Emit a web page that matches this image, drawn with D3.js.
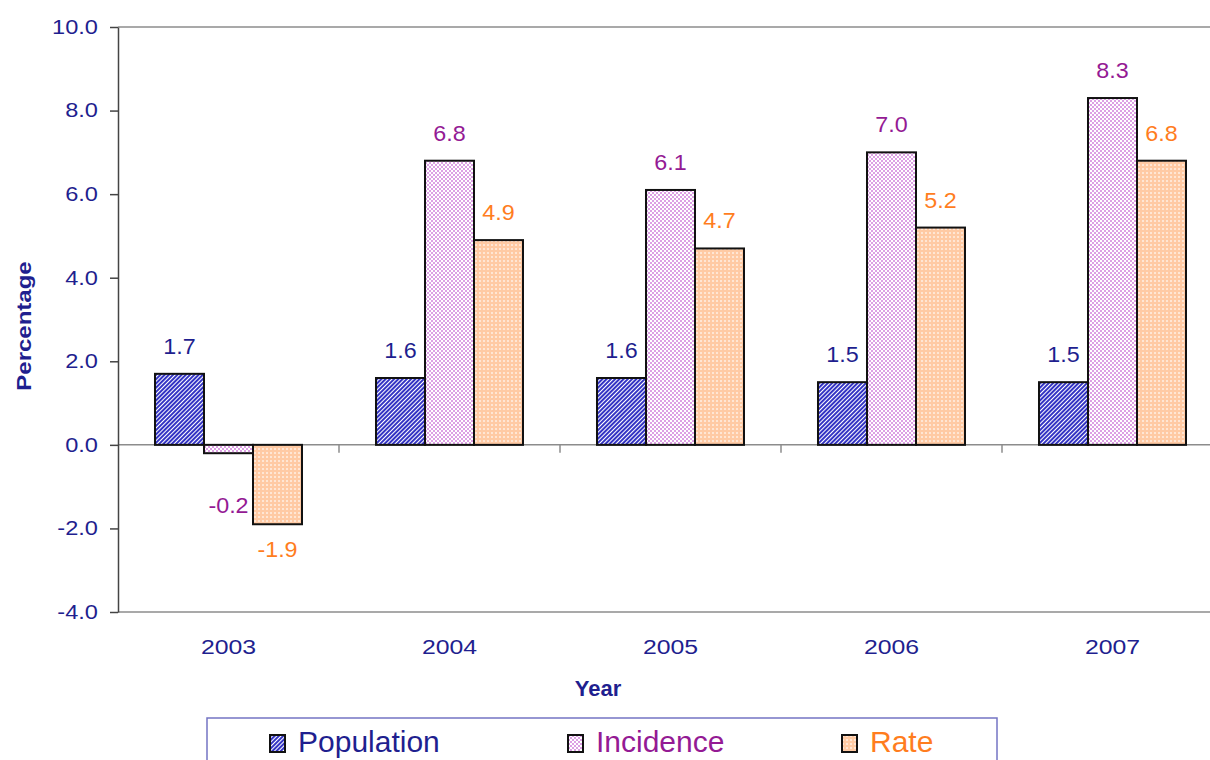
<!DOCTYPE html>
<html>
<head>
<meta charset="utf-8">
<script src="https://cdn.jsdelivr.net/npm/d3@7"></script>
<style>
  body { margin: 0; background: #fff; }
  svg { display: block; font-family: "Liberation Sans", Arial, sans-serif; }
</style>
</head>
<body>
<svg id="chart"></svg>
<script>
const years = ['2003', '2004', '2005', '2006', '2007'];
const seriesNames = ['Population', 'Incidence', 'Rate'];
const population = [1.7, 1.6, 1.6, 1.5, 1.5];
const incidence = [-0.2, 6.8, 6.1, 7.0, 8.3];
const rate = [-1.9, 4.9, 4.7, 5.2, 6.8];
const yTicks = [-4, -2, 0, 2, 4, 6, 8, 10];

const W = 1210;
const H = 760;
const plot = { left: 118, right: 1223, top: 27, bottom: 612 };

const colors = { Population: '#1f1f8f', Incidence: '#941a94', Rate: '#ff7d1e' };
const navy = '#1f1f8f';

const svg = d3.select('#chart').attr('width', W).attr('height', H);

// fill patterns, roughly like the excel ones
const defs = svg.append('defs');
const popPat = defs.append('pattern')
  .attr('id', 'pat-Population')
  .attr('patternUnits', 'userSpaceOnUse')
  .attr('width', 3).attr('height', 3)
  .attr('patternTransform', 'rotate(45)');
popPat.append('rect').attr('width', 3).attr('height', 3).attr('fill', '#ffffff');
popPat.append('rect').attr('width', 2).attr('height', 3).attr('fill', '#3434c4');

const incPat = defs.append('pattern')
  .attr('id', 'pat-Incidence')
  .attr('patternUnits', 'userSpaceOnUse')
  .attr('width', 4).attr('height', 4);
incPat.append('rect').attr('width', 4).attr('height', 4).attr('fill', '#ffffff');
incPat.append('rect').attr('width', 2).attr('height', 2).attr('fill', '#dca0e4');
incPat.append('rect').attr('x', 2).attr('y', 2).attr('width', 2).attr('height', 2).attr('fill', '#dca0e4');

const ratePat = defs.append('pattern')
  .attr('id', 'pat-Rate')
  .attr('patternUnits', 'userSpaceOnUse')
  .attr('width', 4).attr('height', 4);
ratePat.append('rect').attr('width', 4).attr('height', 4).attr('fill', '#ffcaa4');
ratePat.append('rect').attr('width', 2).attr('height', 2).attr('fill', '#ffe6d4');

// scales
const x0 = d3.scaleBand().domain(years).range([plot.left, plot.right]).padding(0);
const x1 = d3.scaleBand().domain(seriesNames).range([0, x0.bandwidth()])
  .paddingInner(0).paddingOuter(0.755);
const y = d3.scaleLinear().domain([-4, 10]).range([plot.bottom, plot.top]);

const data = years.map((yr, i) => ({
  year: yr,
  values: [
    { key: 'Population', v: population[i] },
    { key: 'Incidence', v: incidence[i] },
    { key: 'Rate', v: rate[i] },
  ],
}));

// stretch text a little wider, excel renders it that way
const stretch = (sel, k) => {
  sel.each(function () {
    const len = this.getComputedTextLength();
    d3.select(this).attr('textLength', len * k).attr('lengthAdjust', 'spacingAndGlyphs');
  });
};

// plot area border (top + bottom lines)
svg.append('line')
  .attr('x1', plot.left).attr('x2', plot.right)
  .attr('y1', plot.top).attr('y2', plot.top)
  .attr('stroke', '#8c8c8c').attr('stroke-width', 1.5);
svg.append('line')
  .attr('x1', plot.left).attr('x2', plot.right)
  .attr('y1', plot.bottom).attr('y2', plot.bottom)
  .attr('stroke', '#8c8c8c').attr('stroke-width', 1.5);

// zero line with category ticks
const zeroY = y(0);
svg.append('line')
  .attr('x1', plot.left).attr('x2', plot.right)
  .attr('y1', zeroY).attr('y2', zeroY)
  .attr('stroke', '#8c8c8c').attr('stroke-width', 1.5);
svg.selectAll('.cat-tick')
  .data(years.slice(1))
  .join('line')
  .attr('class', 'cat-tick')
  .attr('x1', (d) => x0(d)).attr('x2', (d) => x0(d))
  .attr('y1', zeroY).attr('y2', zeroY + 8)
  .attr('stroke', '#8c8c8c').attr('stroke-width', 1.5);

// bars
const groups = svg.selectAll('.year')
  .data(data)
  .join('g')
  .attr('class', 'year')
  .attr('transform', (d) => `translate(${x0(d.year)},0)`);

groups.selectAll('rect')
  .data((d) => d.values)
  .join('rect')
  .attr('x', (d) => x1(d.key))
  .attr('y', (d) => y(Math.max(0, d.v)))
  .attr('width', x1.bandwidth())
  .attr('height', (d) => Math.abs(y(d.v) - y(0)))
  .attr('fill', (d) => `url(#pat-${d.key})`)
  .attr('stroke', '#111')
  .attr('stroke-width', 2);

// value labels
groups.selectAll('text.val')
  .data((d) => d.values)
  .join('text')
  .attr('class', 'val')
  .attr('x', (d) => x1(d.key) + x1.bandwidth() / 2)
  // short negative bars get their label pushed down clear of the next bar
  .attr('y', (d) => (d.v >= 0 ? y(d.v) - 20 : Math.max(y(d.v), y(-0.85)) + 33))
  .attr('text-anchor', 'middle')
  .attr('font-size', 22)
  .attr('fill', (d) => colors[d.key])
  .text((d) => d.v.toFixed(1))
  .call(stretch, 1.06);

// y axis
const yAxis = d3.axisLeft(y)
  .tickValues(yTicks)
  .tickSize(8)
  .tickSizeOuter(0)
  .tickPadding(12)
  .tickFormat((d) => d.toFixed(1));
const gy = svg.append('g')
  .attr('transform', `translate(${plot.left},0)`)
  .call(yAxis);
gy.select('.domain').attr('stroke', '#444').attr('stroke-width', 1.5);
gy.selectAll('.tick line').attr('stroke', '#444').attr('stroke-width', 1.5);
gy.selectAll('.tick text')
  .attr('font-size', 20)
  .attr('font-family', '"Liberation Sans", Arial, sans-serif')
  .attr('fill', navy)
  .call(stretch, 1.18);

// category labels at the bottom
svg.selectAll('.cat-label')
  .data(years)
  .join('text')
  .attr('class', 'cat-label')
  .attr('x', (d) => x0(d) + x0.bandwidth() / 2)
  .attr('y', 654)
  .attr('text-anchor', 'middle')
  .attr('font-size', 20)
  .attr('fill', navy)
  .text((d) => d)
  .call(stretch, 1.24);

// axis titles
svg.append('text')
  .attr('x', 598)
  .attr('y', 696)
  .attr('text-anchor', 'middle')
  .attr('font-size', 22)
  .attr('font-weight', 'bold')
  .attr('fill', navy)
  .text('Year');

svg.append('text')
  .attr('transform', 'translate(31,326) rotate(-90)')
  .attr('text-anchor', 'middle')
  .attr('font-size', 20)
  .attr('font-weight', 'bold')
  .attr('fill', navy)
  .text('Percentage')
  .call(stretch, 1.2);

// legend
const legend = svg.append('g');
legend.append('rect')
  .attr('x', 207).attr('y', 718)
  .attr('width', 790).attr('height', 60)
  .attr('fill', '#fff')
  .attr('stroke', '#7474c4')
  .attr('stroke-width', 1.5);

const legendX = [270, 568, 842];
const items = legend.selectAll('.item')
  .data(seriesNames)
  .join('g')
  .attr('class', 'item')
  .attr('transform', (d, i) => `translate(${legendX[i]},735)`);
items.append('rect')
  .attr('width', 15).attr('height', 17)
  .attr('fill', (d) => `url(#pat-${d})`)
  .attr('stroke', '#111')
  .attr('stroke-width', 2);
items.append('text')
  .attr('x', 28)
  .attr('y', 17)
  .attr('font-size', 30)
  .attr('fill', (d) => colors[d])
  .text((d) => d);
</script>
</body>
</html>
